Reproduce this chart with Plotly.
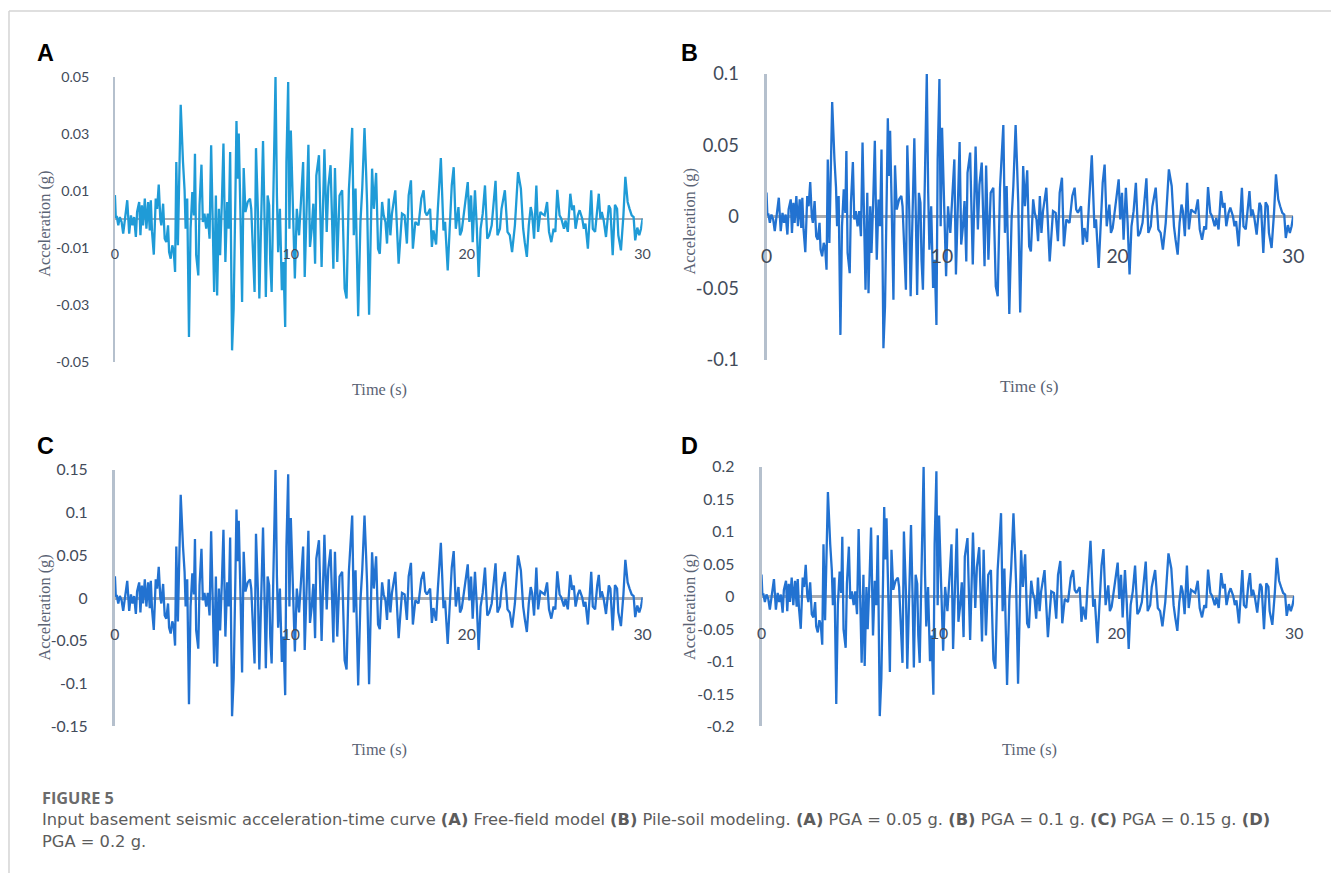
import plotly.graph_objects as go

# ---------------- data ----------------
TIME_S = [
    0.00, 0.05, 0.10, 0.19, 0.28, 0.38, 0.47, 0.57, 0.70, 0.81,
    0.91, 1.00, 1.09, 1.19, 1.26, 1.38, 1.45, 1.53, 1.60, 1.70,
    1.79, 1.89, 1.98, 2.04, 2.11, 2.21, 2.32, 2.40, 2.49, 2.58,
    2.64, 2.74, 2.83, 2.92, 3.02, 3.08, 3.17, 3.26, 3.34, 3.42,
    3.49, 3.58, 3.74, 3.87, 3.96, 4.02, 4.11, 4.21, 4.30, 4.40,
    4.49, 4.55, 4.62, 4.74, 4.81, 4.92, 5.00, 5.09, 5.19, 5.28,
    5.38, 5.47, 5.57, 5.64, 5.74, 5.81, 5.91, 5.98, 6.08, 6.17,
    6.28, 6.38, 6.47, 6.55, 6.66, 6.75, 6.85, 6.91, 6.98, 7.04,
    7.13, 7.23, 7.32, 7.42, 7.55, 7.68, 7.75, 7.83, 7.94, 8.02,
    8.13, 8.21, 8.32, 8.42, 8.51, 8.58, 8.68, 8.77, 8.83, 8.91,
    9.00, 9.13, 9.21, 9.28, 9.38, 9.49, 9.58, 9.68, 9.75, 9.85,
    9.92, 10.00, 10.23, 10.34, 10.47, 10.70, 10.79, 10.89, 11.00, 11.09,
    11.19, 11.28, 11.38, 11.45, 11.60, 11.75, 11.91, 12.04, 12.13, 12.26,
    12.42, 12.51, 12.64, 12.77, 12.92, 13.06, 13.17, 13.30, 13.49, 13.58,
    13.68, 13.83, 13.96, 14.06, 14.19, 14.28, 14.34, 14.45, 14.62, 14.72,
    14.85, 14.96, 15.06, 15.19, 15.28, 15.38, 15.47, 15.57, 15.66, 15.75,
    15.94, 16.09, 16.13, 16.32, 16.47, 16.60, 16.70, 16.83, 16.94, 17.08,
    17.26, 17.42, 17.55, 17.64, 17.74, 17.92, 18.02, 18.11, 18.26, 18.36,
    18.53, 18.68, 18.77, 18.92, 19.06, 19.15, 19.26, 19.38, 19.53, 19.62,
    19.72, 19.81, 20.06, 20.15, 20.25, 20.34, 20.47, 20.57, 20.68, 20.79,
    20.91, 21.04, 21.17, 21.28, 21.42, 21.64, 21.75, 21.89, 21.98, 22.17,
    22.32, 22.45, 22.58, 22.74, 22.92, 23.08, 23.21, 23.30, 23.42, 23.53,
    23.64, 23.72, 23.83, 23.96, 24.06, 24.19, 24.28, 24.43, 24.57, 24.68,
    24.81, 24.94, 25.04, 25.15, 25.28, 25.38, 25.53, 25.62, 25.75, 25.89,
    26.00, 26.09, 26.19, 26.32, 26.42, 26.57, 26.66, 26.75, 26.89, 27.08,
    27.17, 27.30, 27.42, 27.51, 27.60, 27.68, 27.79, 27.92, 28.08, 28.17,
    28.30, 28.43, 28.55, 28.62, 28.77, 28.91, 29.02, 29.15, 29.26, 29.38,
    29.49, 29.58, 29.70, 29.81, 29.91, 30.00,
]

# acceleration (PGA = 0.05 g), in milli-g
ACC_PANEL_A_MG = [
    8.5, 0.5, 1.2, -2.1, 0.8, -0.9, -5.0, 0.8, 6.7, -5.0,
    1.4, -2.1, 0.8, -6.2, 2.6, 6.1, -5.6, 4.9, -2.1, 7.3,
    -3.3, 6.1, -3.9, 6.7, -4.4, -12.4, 7.3, 3.7, 12.2, 0.2,
    -2.1, 5.5, -6.8, -8.0, -2.1, -11.5, -13.8, -9.1, -10.9, -18.5,
    20.1, -9.1, 40.2, 20.1, 10.2, -3.3, 7.3, -41.3, -3.3, 9.6,
    1.4, 23.0, -12.6, -19.7, 4.9, 19.2, -0.9, 2.0, -3.3, 2.0,
    -6.8, 26.0, -3.3, -25.5, 8.4, -26.7, 3.7, -12.6, 6.1, 26.6,
    -15.0, 6.1, -3.3, 23.6, -46.0, -31.4, 8.4, 34.5, 14.3, 30.1,
    3.7, -29.0, 18.0, 2.6, 6.1, 7.3, 3.7, -10.3, -25.5, 25.0,
    2.6, -27.8, 6.1, 27.5, -0.9, -27.3, 8.4, 4.9, -15.0, -25.5,
    6.1, 50.0, 8.4, -11.5, 3.7, -24.9, -15.0, -37.8, 20.1, 48.2,
    -3.3, 31.2, -20.8, 3.7, -5.6, 20.1, -20.2, 2.6, 26.2, -9.7,
    -3.3, 5.5, -15.6, 15.4, 22.5, -16.7, 24.6, -4.4, 11.3, 19.0,
    -17.3, 18.0, -15.0, 8.4, 10.2, -24.3, -27.8, 10.2, 32.1, -5.6,
    10.8, -34.0, -0.9, 10.8, 32.1, 16.6, 4.9, -33.5, 17.8, 3.7,
    16.3, -10.3, -12.1, 6.1, 1.4, -0.9, -8.5, 7.3, -5.6, 2.0,
    10.2, -10.3, -15.6, 2.0, 1.4, -8.5, 8.4, 13.7, -10.3, -0.9,
    -2.1, 7.3, 10.2, 2.6, 1.4, 3.7, -9.7, -3.9, -8.8, 3.7,
    21.5, -3.9, -0.9, -17.9, 1.4, 11.9, 18.3, -3.3, 4.3, -5.6,
    -3.9, 0.2, 13.1, -0.9, 8.4, -8.0, 10.2, -2.1, -20.2, -3.3,
    2.0, 11.9, -6.8, -5.6, -2.1, 13.5, -5.6, -3.3, 3.7, 10.2,
    -4.4, -5.6, -11.5, -2.1, 16.6, 10.8, -3.3, -8.0, -13.2, -2.1,
    4.3, 2.0, -6.8, 11.9, -4.4, 2.6, 2.0, 1.4, 6.1, -4.4,
    -8.0, -3.3, -4.4, 10.4, 1.4, 0.2, -3.3, -0.4, -4.4, 9.0,
    3.2, 4.9, -3.3, 1.4, 3.2, 0.2, -3.3, -1.5, -10.3, 10.2,
    -3.3, -4.4, 4.9, 9.0, 0.2, 2.6, -0.4, -6.2, 4.9, 3.7,
    -12.6, 5.1, 3.7, -5.6, -10.9, 1.4, 14.9, 6.1, 3.7, 1.4,
    0.8, -7.4, -2.9, -5.6, -3.3, 0.2,
]

PANEL_LABELS = ["A", "B", "C", "D"]
PGA_G = [0.05, 0.1, 0.15, 0.2]          # the same record scaled to each PGA
X_TICKS = [0, 10, 20, 30]
Y_TICKS = [
    [-0.05, -0.03, -0.01, 0.01, 0.03, 0.05],
    [-0.1, -0.05, 0, 0.05, 0.1],
    [-0.15, -0.1, -0.05, 0, 0.05, 0.1, 0.15],
    [-0.2, -0.15, -0.1, -0.05, 0, 0.05, 0.1, 0.15, 0.2],
]
Y_TICK_TEXT = [
    ["-0.05", "-0.03", "-0.01", "0.01", "0.03", "0.05"],
    ["-0.1", "-0.05", "0", "0.05", "0.1"],
    ["-0.15", "-0.1", "-0.05", "0", "0.05", "0.1", "0.15"],
    ["-0.2", "-0.15", "-0.1", "-0.05", "0", "0.05", "0.1", "0.15", "0.2"],
]
Y_RANGES = [[-0.05, 0.05], [-0.1, 0.1], [-0.15, 0.15], [-0.2, 0.2]]
X_TITLE = "Time (s)"
Y_TITLE = "Acceleration (g)"

# ---------------- layout / styling ----------------
# measured page -> picture mapping of this renderer (offset + slight shrink)
OFF_X, OFF_Y, K_X, K_Y = 6.0, 10.0, 0.988, 0.976
K = (K_X + K_Y) / 2
W, H = 1345, 890


def px_x(rx):
    return (rx - OFF_X) / K_X


def px_y(ry):
    return (ry - OFF_Y) / K_Y


def fx(rx):
    return px_x(rx) / W


def fy(ry):
    return 1 - px_y(ry) / H


def fs(size):
    return size / K


# target boxes of each plot area: x at t=0, x at t=30, y top, y bottom
BOXES = [(115, 643, 75, 360), (767, 1294, 72, 358),
         (115, 643, 468, 725), (762, 1295, 465, 725)]
LINE_COLORS = ["#1f9bd7", "#2272d1", "#2272d1", "#2272d1"]
TICK_SIZES = [14, 18, 15.5, 15.5]
AXIS_W = [1.5, 3, 3, 3]
ZERO_W = [1.5, 2.5, 2.5, 2.5]
LETTER_POS = [(46, 51), (690, 51), (46, 444), (690, 444)]
YTITLE_POS = [(45, 222), (690, 220), (45, 606), (690, 606)]
XTITLE_POS = [(380, 388), (1030, 385), (380, 748), (1030, 748)]

TICK_COLOR = "#424b5a"
TITLE_COLOR = "#5a6374"

fig = go.Figure()
layout = dict(
    width=W, height=H, autosize=False,
    margin=dict(l=0, r=0, t=0, b=0),
    paper_bgcolor="white", plot_bgcolor="white",
    showlegend=False,
)
annotations = []

for i, lab in enumerate(PANEL_LABELS):
    n = "" if i == 0 else str(i + 1)
    x0, x1, yt, yb = BOXES[i]
    zero_py = (yt + yb) / 2
    scale = PGA_G[i] / 0.05
    yvals = [v / 1000.0 * scale for v in ACC_PANEL_A_MG]
    fig.add_trace(go.Scatter(
        x=TIME_S, y=yvals, mode="lines",
        line=dict(color=LINE_COLORS[i], width=2.3),
        xaxis="x" + n, yaxis="y" + n, hoverinfo="skip",
    ))
    layout["xaxis" + n] = dict(
        domain=[fx(x0), fx(x1)], range=[0, 30], anchor="free",
        position=fy(zero_py),
        showline=False, zeroline=False, showgrid=False,
        tickvals=X_TICKS, ticktext=[str(v) for v in X_TICKS],
        ticks="outside", ticklen=22, tickcolor="rgba(0,0,0,0)",
        tickfont=dict(family="Lato", size=fs(TICK_SIZES[i] + (1 if i == 1 else 0)),
                      color=TICK_COLOR),
        fixedrange=True,
    )
    layout["yaxis" + n] = dict(
        domain=[fy(yb), fy(yt)], range=Y_RANGES[i], anchor="x" + n,
        showline=True, linecolor="#b5c0cd", linewidth=AXIS_W[i],
        zeroline=True, zerolinecolor="#a9adb3", zerolinewidth=ZERO_W[i],
        showgrid=False,
        tickvals=Y_TICKS[i], ticktext=Y_TICK_TEXT[i],
        ticks="outside", ticklen=21, tickcolor="rgba(0,0,0,0)",
        tickfont=dict(family="Lato", size=fs(TICK_SIZES[i]), color=TICK_COLOR),
        fixedrange=True,
    )
    lx, ly = LETTER_POS[i]
    annotations.append(dict(
        text="<b>" + lab + "</b>", x=fx(lx), y=fy(ly), xref="paper", yref="paper",
        showarrow=False, xanchor="center", yanchor="middle",
        font=dict(family="Liberation Sans", size=fs(23), color="#000000"),
    ))
    tx, ty = YTITLE_POS[i]
    annotations.append(dict(
        text=Y_TITLE, x=fx(tx), y=fy(ty), xref="paper", yref="paper",
        showarrow=False, textangle=-90, xanchor="center", yanchor="middle",
        font=dict(family="Liberation Serif", size=fs(16), color=TITLE_COLOR),
    ))
    tx, ty = XTITLE_POS[i]
    annotations.append(dict(
        text=X_TITLE, x=fx(tx), y=fy(ty), xref="paper", yref="paper",
        showarrow=False, xanchor="center", yanchor="middle",
        font=dict(family="Liberation Serif", size=fs(17 if i == 1 else 16),
                  color=TITLE_COLOR),
    ))

# caption
annotations.append(dict(
    text="<b>FIGURE 5</b>", x=fx(40), y=fy(797), xref="paper", yref="paper",
    showarrow=False, xanchor="left", yanchor="middle",
    font=dict(family="Open Sans", size=fs(16), color="#6b6b6b"),
))
annotations.append(dict(
    text=("Input basement seismic acceleration-time curve <b>(A)</b> Free-field model "
          "<b>(B)</b> Pile-soil modeling. <b>(A)</b> PGA = 0.05 g. <b>(B)</b> PGA = 0.1 g. "
          "<b>(C)</b> PGA = 0.15 g. <b>(D)</b>"),
    x=fx(40), y=fy(818), xref="paper", yref="paper",
    showarrow=False, xanchor="left", yanchor="middle",
    font=dict(family="DejaVu Sans", size=fs(16), color="#5c5c5c"),
))
annotations.append(dict(
    text="PGA = 0.2 g.", x=fx(40), y=fy(840), xref="paper", yref="paper",
    showarrow=False, xanchor="left", yanchor="middle",
    font=dict(family="DejaVu Sans", size=fs(16), color="#5c5c5c"),
))

layout["annotations"] = annotations
layout["shapes"] = [
    dict(type="line", xref="paper", yref="paper", x0=fx(9), x1=1, y0=fy(9), y1=fy(9),
         line=dict(color="#d4d4d4", width=1.5)),
    dict(type="line", xref="paper", yref="paper", x0=fx(9), x1=fx(9), y0=0, y1=fy(9),
         line=dict(color="#d4d4d4", width=1.5)),
]
fig.update_layout(**layout)
fig.write_html("out.html")
